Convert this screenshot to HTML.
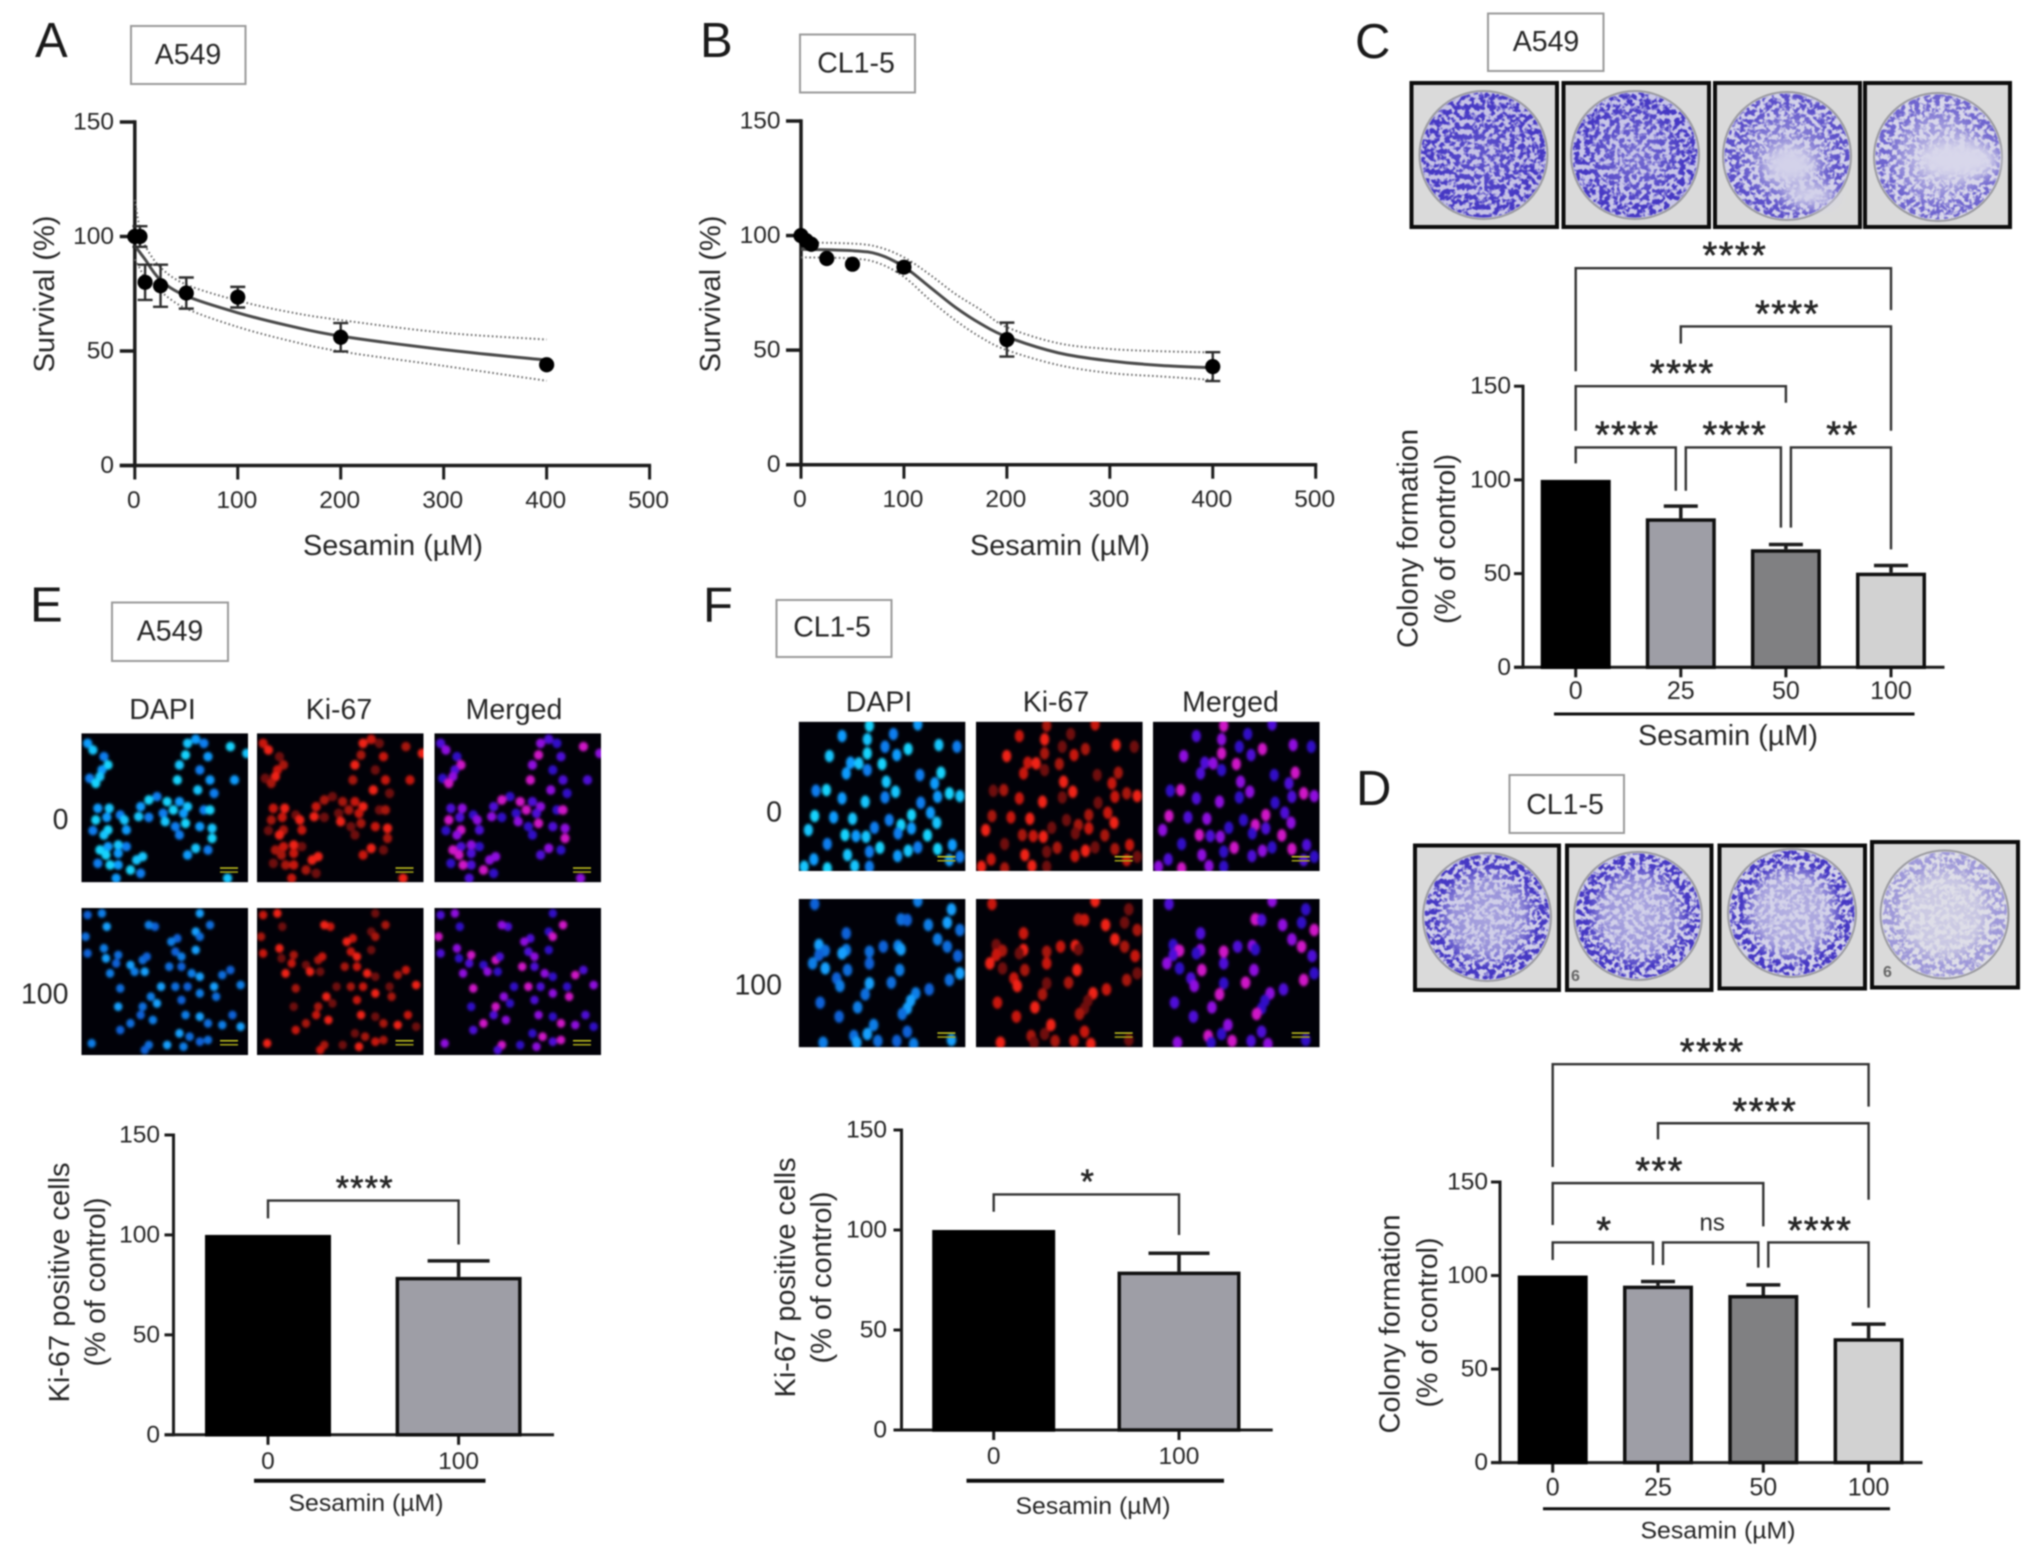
<!DOCTYPE html>
<html lang="en">
<head>
<meta charset="utf-8">
<title>Sesamin survival, colony formation and Ki-67 panels</title>
<style>
html,body{margin:0;padding:0;background:#fff;width:2032px;height:1558px;overflow:hidden}
#figure{display:block;filter:blur(0.7px)}
text{font-family:"Liberation Sans",Arial,sans-serif;fill:#262626}
.letter{font-size:49px;fill:#1a1a1a}
.cell-line{font-size:28.5px;text-anchor:middle;dominant-baseline:central}
.box{fill:#fff;stroke:#9a9a9a;stroke-width:2}
.title{font-size:28.5px;text-anchor:middle;dominant-baseline:central}
.channel{font-size:28.5px;text-anchor:middle;dominant-baseline:central}
.row-label{font-size:28.5px;text-anchor:end;dominant-baseline:central}
</style>
</head>
<body>
<svg id="figure" xmlns="http://www.w3.org/2000/svg" width="2032" height="1558" viewBox="0 0 2032 1558">
  <defs id="defs">
    <filter id="speckle" x="-5%" y="-5%" width="110%" height="110%" color-interpolation-filters="sRGB">
      <feTurbulence type="fractalNoise" baseFrequency="0.2" numOctaves="2" seed="11" result="noise"/>
      <feColorMatrix in="noise" type="matrix" values="0 0 0 0 0  0 0 0 0 0  0 0 0 0 0  6 0 0 0 -2.45" result="mask"/>
      <feComposite in="SourceGraphic" in2="mask" operator="in"/>
    </filter>
    <filter id="soft" x="-30%" y="-30%" width="160%" height="160%"><feGaussianBlur stdDeviation="7"/></filter>
    <filter id="cell-blur" x="-5%" y="-5%" width="110%" height="110%"><feGaussianBlur stdDeviation="1.3"/></filter>
  </defs>
  <rect width="2032" height="1558" fill="#fff"/>

  <text class="letter" x="35" y="57">A</text>
  <text class="letter" x="700" y="57">B</text>
  <text class="letter" x="1355" y="58">C</text>
  <text class="letter" x="1356" y="805">D</text>
  <text class="letter" x="30" y="621.5">E</text>
  <text class="letter" x="703" y="621.5">F</text>

  <g><rect class="box" x="131" y="26" width="114.5" height="58"/><text class="cell-line" x="188" y="55">A549</text></g>
  <g><rect class="box" x="800" y="34.5" width="115" height="58"/><text class="cell-line" x="856" y="63.5">CL1-5</text></g>
  <g><rect class="box" x="1488" y="13.5" width="115.5" height="57.5"/><text class="cell-line" x="1546" y="42">A549</text></g>
  <g><rect class="box" x="1509.5" y="775" width="114.5" height="58"/><text class="cell-line" x="1565" y="805">CL1-5</text></g>
  <g><rect class="box" x="112" y="602.5" width="116" height="58.5"/><text class="cell-line" x="170" y="631.5">A549</text></g>
  <g><rect class="box" x="776.5" y="600" width="115" height="57"/><text class="cell-line" x="832" y="627.5">CL1-5</text></g>

  <g id="plates"></g>
  <g id="micrographs"></g>

  <text class="channel" x="162.5" y="710">DAPI</text>
  <text class="channel" x="339" y="710">Ki-67</text>
  <text class="channel" x="514" y="710">Merged</text>
  <text class="row-label" x="68.5" y="820">0</text>
  <text class="row-label" x="68.5" y="994.5">100</text>
  <text class="channel" x="879" y="702.5">DAPI</text>
  <text class="channel" x="1056" y="702.5">Ki-67</text>
  <text class="channel" x="1230.5" y="702.5">Merged</text>
  <text class="row-label" x="782" y="812.5">0</text>
  <text class="row-label" x="782" y="985.5">100</text>

  <g id="chart-a">
    <text class="title" transform="translate(45 294) rotate(-90)" textLength="157" lengthAdjust="spacingAndGlyphs">Survival (%)</text>
    <text class="title" x="393" y="546" textLength="180" lengthAdjust="spacingAndGlyphs">Sesamin (µM)</text>
  </g>
  <g id="chart-b">
    <text class="title" transform="translate(711 294) rotate(-90)" textLength="157" lengthAdjust="spacingAndGlyphs">Survival (%)</text>
    <text class="title" x="1060" y="546" textLength="180" lengthAdjust="spacingAndGlyphs">Sesamin (µM)</text>
  </g>
  <g id="chart-c">
    <text class="title" transform="translate(1408.5 538.5) rotate(-90)" textLength="219" lengthAdjust="spacingAndGlyphs">Colony formation</text>
    <text class="title" transform="translate(1446 539) rotate(-90)" textLength="170" lengthAdjust="spacingAndGlyphs">(% of control)</text>
    <text class="title" x="1728" y="736" textLength="180" lengthAdjust="spacingAndGlyphs">Sesamin (µM)</text>
  </g>
  <g id="chart-d">
    <text class="title" transform="translate(1390.5 1324) rotate(-90)" textLength="219" lengthAdjust="spacingAndGlyphs">Colony formation</text>
    <text class="title" transform="translate(1428 1322.5) rotate(-90)" textLength="170" lengthAdjust="spacingAndGlyphs">(% of control)</text>
    <text class="title" x="1718" y="1531" textLength="155" lengthAdjust="spacingAndGlyphs" style="font-size:24.5px">Sesamin (µM)</text>
  </g>
  <g id="chart-e">
    <text class="title" transform="translate(60 1282.5) rotate(-90)" textLength="240" lengthAdjust="spacingAndGlyphs">Ki-67 positive cells</text>
    <text class="title" transform="translate(96 1282) rotate(-90)" textLength="169" lengthAdjust="spacingAndGlyphs">(% of control)</text>
    <text class="title" x="366" y="1503.5" textLength="155" lengthAdjust="spacingAndGlyphs" style="font-size:24.5px">Sesamin (µM)</text>
  </g>
  <g id="chart-f">
    <text class="title" transform="translate(786 1277.5) rotate(-90)" textLength="240" lengthAdjust="spacingAndGlyphs">Ki-67 positive cells</text>
    <text class="title" transform="translate(822 1277.5) rotate(-90)" textLength="172" lengthAdjust="spacingAndGlyphs">(% of control)</text>
    <text class="title" x="1093" y="1506.5" textLength="155" lengthAdjust="spacingAndGlyphs" style="font-size:24.5px">Sesamin (µM)</text>
  </g>
</svg>

<script>
/* ---------- chart data ---------- */
const survivalYTicks = [0, 50, 100, 150];
const survivalXTicks = [0, 100, 200, 300, 400, 500];

const aDoses = [0, 5, 10, 25, 50, 100, 200, 400];
const aSurvival = [100, 100, 80, 78.5, 75.3, 73.5, 56, 44];
const aErrors = [0, 4.5, 7.7, 9.2, 6.8, 4.5, 6.2, 0];
const aFitDoses = [0, 5, 10, 25, 50, 100, 150, 200, 300, 400];
const aFit = [96, 93, 90, 81, 74, 66.7, 61, 56.5, 50.6, 46];
const aUpper = [116, 103, 96, 86.5, 79, 72, 67, 63.5, 58, 55];
const aLower = [90, 86, 82, 76, 68.5, 60.5, 54.5, 49.8, 43.5, 37];

const bDoses = [0, 5, 10, 25, 50, 100, 200, 400];
const bSurvival = [100, 97.8, 96.2, 90, 87.5, 86.2, 54.6, 42.8];
const bErrors = [0, 0, 0, 0, 0, 2, 7.4, 6.3];
const bFitDoses = [0, 50, 75, 100, 125, 150, 175, 200, 250, 300, 350, 400];
const bFit = [94, 93.4, 91.8, 86.4, 77.6, 68.7, 61.4, 55.8, 48.8, 45.3, 43.3, 42.3];
const bUpper = [97, 96.5, 95, 90.5, 83, 74.5, 67.5, 60, 53, 50.5, 49.5, 49];
const bLower = [90.5, 90, 88, 82, 72, 63, 55.5, 50, 43.5, 40, 38.5, 37];

const barYTicks = [0, 50, 100, 150];

const cCategories = ['0', '25', '50', '100'];
const cValues = [100, 79.5, 63, 50.5];
const cErrors = [0, 6.5, 2.5, 3.8];
const cBracketFrom = [0, 1, 0, 0, 1, 2];
const cBracketTo = [3, 3, 2, 1, 2, 3];
const cBracketLevel = [213, 181.9, 150, 117.3, 117.3, 117.3];
const cBracketLeftEnd = [158, 172.7, 126.2, 108.8, 94.2, 74.5];
const cBracketRightEnd = [190.6, 126.2, 141.2, 94.2, 74.5, 62.9];
const cBracketLabels = ['****', '****', '****', '****', '****', '**'];

const dCategories = ['0', '25', '50', '100'];
const dValues = [100, 94.6, 89.6, 66.5];
const dErrors = [0, 2.2, 5.4, 7.5];
const dBracketFrom = [0, 1, 0, 0, 1, 2];
const dBracketTo = [3, 3, 2, 1, 2, 3];
const dBracketLevel = [213, 181.4, 149.4, 117.7, 117.7, 117.7];
const dBracketLeftEnd = [158, 172.8, 127, 108.3, 105.6, 104.2];
const dBracketRightEnd = [190.3, 140.5, 126.3, 105.6, 104.2, 82.8];
const dBracketLabels = ['****', '****', '***', '*', 'ns', '****'];

const eCategories = ['0', '100'];
const eValues = [100, 79];
const eErrors = [0, 8];
const eBracketFrom = [0];
const eBracketTo = [1];
const eBracketLevel = [117.2];
const eBracketLeftEnd = [108.3];
const eBracketRightEnd = [95.2];
const eBracketLabels = ['****'];

const fCategories = ['0', '100'];
const fValues = [100, 79.2];
const fErrors = [0, 9.2];
const fBracketFrom = [0];
const fBracketTo = [1];
const fBracketLevel = [117.8];
const fBracketLeftEnd = [109.1];
const fBracketRightEnd = [97.5];
const fBracketLabels = ['*'];

/* ---------- shared drawing helpers ---------- */
const SVGNS = 'http://www.w3.org/2000/svg';
function make(tag, attrs, parent) {
  const node = document.createElementNS(SVGNS, tag);
  for (const key in attrs) node.setAttribute(key, attrs[key]);
  if (parent) parent.appendChild(node);
  return node;
}
function linear(d0, d1, r0, r1) {
  return function (v) { return r0 + (v - d0) * (r1 - r0) / (d1 - d0); };
}
function smoothPath(points) {
  let d = 'M' + points[0][0].toFixed(2) + ' ' + points[0][1].toFixed(2);
  for (let i = 0; i < points.length - 1; i++) {
    const p0 = points[i - 1] || points[i];
    const p1 = points[i];
    const p2 = points[i + 1];
    const p3 = points[i + 2] || p2;
    d += 'C' + (p1[0] + (p2[0] - p0[0]) / 6).toFixed(2) + ' ' + (p1[1] + (p2[1] - p0[1]) / 6).toFixed(2) + ' ' +
      (p2[0] - (p3[0] - p1[0]) / 6).toFixed(2) + ' ' + (p2[1] - (p3[1] - p1[1]) / 6).toFixed(2) + ' ' +
      p2[0].toFixed(2) + ' ' + p2[1].toFixed(2);
  }
  return d;
}

function drawYAxis(group, prefix, ticks, y, axisX, tickLength, labelRight, fontSize, strokeWidth) {
  const spine = make('line', { x1: axisX, x2: axisX, y1: y(ticks[ticks.length - 1]) - strokeWidth / 2, y2: y(0) + strokeWidth / 2, stroke: '#1c1c1c', 'stroke-width': strokeWidth }, group);
  
  
  ticks.forEach(function (t) {
    const mark = make('line', { x1: axisX - tickLength, x2: axisX, y1: y(t), y2: y(t), stroke: '#1c1c1c', 'stroke-width': strokeWidth }, group);
    
    
    const label = make('text', { x: labelRight, y: y(t), 'text-anchor': 'end', 'dominant-baseline': 'central', 'font-size': fontSize }, group);
    label.textContent = t;
    
    
  });
}

/* ---------- survival curves (A, B) ---------- */
function drawSurvival(prefix, group, doses, survival, errors, fitDoses, fit, upper, lower, axisX0, axisX1, axisY0, axisY150, labelRight) {
  const x = linear(0, 500, axisX0, axisX1);
  const y = linear(0, 150, axisY0, axisY150);
  drawYAxis(group, prefix, survivalYTicks, y, axisX0, 15, labelRight, 24.5, 3.5);
  const base = make('line', { x1: axisX0 - 15, x2: axisX1 + 1.5, y1: axisY0, y2: axisY0, stroke: '#1c1c1c', 'stroke-width': 3.5 }, group);
  
  
  survivalXTicks.forEach(function (t) {
    const mark = make('line', { x1: x(t), x2: x(t), y1: axisY0, y2: axisY0 + 14, stroke: '#1c1c1c', 'stroke-width': 3 }, group);
    
    
    const label = make('text', { x: x(t) - 1, y: axisY0 + 35, 'text-anchor': 'middle', 'dominant-baseline': 'central', 'font-size': 24.5 }, group);
    label.textContent = t;
    
    
  });
  const upperLine = make('path', { d: smoothPath(fitDoses.map(function (v, i) { return [x(v), y(upper[i])]; })), fill: 'none', stroke: '#6a6a6a', 'stroke-width': 2, 'stroke-dasharray': '1.6 2.6' }, group);
  
  
  const lowerLine = make('path', { d: smoothPath(fitDoses.map(function (v, i) { return [x(v), y(lower[i])]; })), fill: 'none', stroke: '#6a6a6a', 'stroke-width': 2, 'stroke-dasharray': '1.6 2.6' }, group);
  
  
  const fitLine = make('path', { d: smoothPath(fitDoses.map(function (v, i) { return [x(v), y(fit[i])]; })), fill: 'none', stroke: '#4a4a4a', 'stroke-width': 3 }, group);
  
  
  doses.forEach(function (d, i) {
    if (errors[i] > 0) {
      const cx = x(d);
      const top = y(survival[i] + errors[i]);
      const bottom = y(survival[i] - errors[i]);
      const whisker = make('path', { d: 'M' + (cx - 7.5) + ' ' + top + 'H' + (cx + 7.5) + 'M' + cx + ' ' + top + 'V' + bottom + 'M' + (cx - 7.5) + ' ' + bottom + 'H' + (cx + 7.5), fill: 'none', stroke: '#2e2e2e', 'stroke-width': 2.4 }, group);
      
      
    }
    const dot = make('circle', { cx: x(d), cy: y(survival[i]), r: 7.6, fill: '#000' }, group);
    
    
  });
}

/* ---------- bar charts (C, D, E, F) ---------- */
const barFills = ['#000000', '#9e9ea6', '#808082', '#d2d2d2'];

function drawBars(prefix, group, categories, values, errors, layout, bracketFrom, bracketTo, bracketLevel, bracketLeft, bracketRight, bracketLabels) {
  const y = linear(0, 150, layout.y0, layout.y150);
  const x = function (i) { return layout.first + i * layout.step; };
  const sw = layout.stroke;
  drawYAxis(group, prefix, barYTicks, y, layout.axisX, layout.tickLength, layout.labelRight, layout.yFont, sw - 0.5);
  const base = make('line', { x1: layout.axisX - layout.tickLength, x2: layout.axisEnd, y1: layout.y0, y2: layout.y0, stroke: '#1c1c1c', 'stroke-width': sw - 0.5 }, group);
  
  
  categories.forEach(function (c, i) {
    const mark = make('line', { x1: x(i), x2: x(i), y1: layout.y0, y2: layout.y0 + 10, stroke: '#1c1c1c', 'stroke-width': sw - 0.5 }, group);
    
    
    const label = make('text', { x: x(i), y: layout.labelY, 'text-anchor': 'middle', 'dominant-baseline': 'central', 'font-size': layout.xFont }, group);
    label.textContent = c;
    
    

    if (errors[i] > 0) {
      const capHalf = layout.cap / 2;
      const whisker = make('path', { d: 'M' + x(i) + ' ' + y(values[i]) + 'V' + y(values[i] + errors[i]) + 'M' + (x(i) - capHalf) + ' ' + y(values[i] + errors[i]) + 'H' + (x(i) + capHalf), fill: 'none', stroke: '#1c1c1c', 'stroke-width': sw }, group);
      
      
    }
    const bar = make('rect', {
      x: x(i) - layout.barWidth / 2 + sw / 2, y: y(values[i]) + sw / 2, width: layout.barWidth - sw,
      height: layout.y0 - y(values[i]) - sw / 2, fill: barFills[i], stroke: i === 0 ? '#000' : '#101010', 'stroke-width': sw
    }, group);
    
    
  });
  const rule = make('line', { x1: layout.ruleStart, x2: layout.ruleEnd, y1: layout.ruleY, y2: layout.ruleY, stroke: '#0d0d0d', 'stroke-width': layout.ruleWidth }, group);
  
  

  bracketFrom.forEach(function (from, i) {
    const to = bracketTo[i];
    const adjacent = to - from === 1 && categories.length > 2;
    const xa = x(from) + (adjacent && from > 0 ? 5 : 0);
    const xb = x(to) - (adjacent && to < categories.length - 1 ? 5 : 0);
    const path = make('path', {
      d: 'M' + xa + ' ' + y(bracketLeft[i]) + 'V' + y(bracketLevel[i]) + 'H' + xb + 'V' + y(bracketRight[i]),
      fill: 'none', stroke: '#333', 'stroke-width': 2.4
    }, group);
    
    
    const text = bracketLabels[i];
    const isNs = text === 'ns';
    const fs = isNs ? 24 : layout.starFont;
    const cy = y(bracketLevel[i]) - layout.starGap;
    const label = make('text', {
      x: (xa + xb) / 2 + 1.5, y: isNs ? cy + 2 : cy + 0.58 * fs, 'text-anchor': 'middle', 'font-size': fs,
      'letter-spacing': isNs ? 0 : layout.starSpacing
    }, group);
    if (isNs) label.setAttribute('dominant-baseline', 'central');
    else {
      label.setAttribute('stroke', '#262626');
      label.setAttribute('stroke-width', '0.6');
    }
    label.textContent = text;
    
    
  });
}

drawSurvival('a', document.getElementById('chart-a'), aDoses, aSurvival, aErrors, aFitDoses, aFit, aUpper, aLower, 134.8, 649.6, 465.5, 122, 114);
drawSurvival('b', document.getElementById('chart-b'), bDoses, bSurvival, bErrors, bFitDoses, bFit, bUpper, bLower, 801, 1315.7, 464.7, 121, 780.5);

drawBars('c', document.getElementById('chart-c'), cCategories, cValues, cErrors,
  { y0: 667.3, y150: 386.2, first: 1575.7, step: 105.1, axisX: 1523, tickLength: 9, labelRight: 1511, yFont: 24.5, axisEnd: 1944.5, xFont: 25, labelY: 691, barWidth: 70, stroke: 3.5, cap: 34, ruleStart: 1554, ruleEnd: 1914.5, ruleY: 714, ruleWidth: 3, starFont: 38, starGap: 22, starSpacing: 1.4 },
  cBracketFrom, cBracketTo, cBracketLevel, cBracketLeftEnd, cBracketRightEnd, cBracketLabels);

drawBars('d', document.getElementById('chart-d'), dCategories, dValues, dErrors,
  { y0: 1462.6, y150: 1182, first: 1552.7, step: 105.3, axisX: 1500, tickLength: 9, labelRight: 1488, yFont: 24.5, axisEnd: 1922.5, xFont: 25, labelY: 1487.7, barWidth: 70, stroke: 3.5, cap: 34, ruleStart: 1543, ruleEnd: 1890, ruleY: 1508.8, ruleWidth: 3, starFont: 38, starGap: 21.5, starSpacing: 1.4 },
  dBracketFrom, dBracketTo, dBracketLevel, dBracketLeftEnd, dBracketRightEnd, dBracketLabels);

drawBars('e', document.getElementById('chart-e'), eCategories, eValues, eErrors,
  { y0: 1434.8, y150: 1135, first: 268, step: 190.6, axisX: 173.5, tickLength: 9, labelRight: 160, yFont: 24.5, axisEnd: 554, xFont: 24.5, labelY: 1461.5, barWidth: 126, stroke: 3.5, cap: 62, ruleStart: 254, ruleEnd: 485.5, ruleY: 1480.7, ruleWidth: 4, starFont: 34, starGap: 21, starSpacing: 1.3 },
  eBracketFrom, eBracketTo, eBracketLevel, eBracketLeftEnd, eBracketRightEnd, eBracketLabels);

drawBars('f', document.getElementById('chart-f'), fCategories, fValues, fErrors,
  { y0: 1430, y150: 1130, first: 993.7, step: 185.3, axisX: 901.5, tickLength: 8, labelRight: 887, yFont: 24.5, axisEnd: 1272.7, xFont: 24.5, labelY: 1456.7, barWidth: 123, stroke: 3.5, cap: 61, ruleStart: 966.5, ruleEnd: 1224, ruleY: 1480.7, ruleWidth: 4, starFont: 34, starGap: 21, starSpacing: 1.3 },
  fBracketFrom, fBracketTo, fBracketLevel, fBracketLeftEnd, fBracketRightEnd, fBracketLabels);

/* ---------- crystal-violet colony plates (photographic illustration) ---------- */
const plateSpecs = [
  ['c-plate-0', 1411.5, 83, 145.5, 144, 1483.5, 155, '#c6c3e6', 0.8, 0.95, 1, null],
  ['c-plate-25', 1563.5, 83, 145.5, 144, 1635, 155, '#c8c6e8', 0.62, 0.85, 1, null],
  ['c-plate-50', 1715, 83, 145, 144, 1787, 156, '#d3d2ea', 0.42, 0.62, 0.85, [1790, 165, 26, 20, 1810, 195, 26, 12]],
  ['c-plate-100', 1865, 83, 145, 144, 1938, 157, '#d8d7eb', 0.3, 0.42, 0.72, [1958, 160, 42, 20]],
  ['d-plate-0', 1415, 845.5, 144, 144.5, 1487, 917, '#d0cfe9', 0.28, 0.42, 1, null],
  ['d-plate-25', 1567, 845.5, 144.5, 144.5, 1638, 916, '#d2d1ea', 0.26, 0.4, 1, null],
  ['d-plate-50', 1719.5, 845.5, 145.5, 143, 1792, 913, '#d4d3ea', 0.22, 0.3, 1, null],
  ['d-plate-100', 1872, 842, 146, 145.5, 1944.5, 914.5, '#dedee8', 0.1, 0.14, 0.42, null]
];
const plateGroup = document.getElementById('plates');
const plateDefs = document.getElementById('defs');
plateSpecs.forEach(function (s) {
  const g = make('g', {}, plateGroup);
  
  
  const stage = make('rect', { x: s[1], y: s[2], width: s[3], height: s[4], fill: '#dadada', stroke: '#0c0c0c', 'stroke-width': 4 }, g);
  
  
  const dish = make('circle', { cx: s[5], cy: s[6], r: 64, fill: s[7], stroke: '#9a9aa0', 'stroke-width': 2 }, g);
  
  
  const grad = make('radialGradient', { id: 'grad-' + s[0] }, plateDefs);
  [[0, s[8]], [0.55, s[9]], [0.82, s[10]], [1, s[10]]].forEach(function (st) {
    make('stop', { offset: st[0], 'stop-color': '#4638c4', 'stop-opacity': st[1] }, grad);
  });
  const colonies = make('circle', { cx: s[5], cy: s[6], r: 62.5, fill: 'url(#grad-' + s[0] + ')', filter: 'url(#speckle)' }, g);
  
  
  if (s[11]) {
    for (let i = 0; i < s[11].length; i += 4) {
      const clear = make('ellipse', { cx: s[11][i], cy: s[11][i + 1], rx: s[11][i + 2], ry: s[11][i + 3], fill: s[7], filter: 'url(#soft)' }, g);
      
      
    }
  }
});
const plateMarkD25 = make('text', { x: 1571, y: 981, 'font-size': 16, 'font-weight': 'bold', style: 'fill:#666' }, plateGroup);
plateMarkD25.textContent = '6';


const plateMarkD100 = make('text', { x: 1883, y: 977, 'font-size': 16, 'font-weight': 'bold', style: 'fill:#666' }, plateGroup);
plateMarkD100.textContent = '6';



/* ---------- fluorescence micrographs (photographic illustration) ---------- */
const cellsE0 = [215,490,228,510,255,530,265,555,250,570,245,590,220,595,235,610,480,478,460,490,500,490,455,525,510,530,440,555,490,570,435,600,515,600,485,630,525,640,565,500,575,600,605,520,385,650,365,660,345,680,340,710,365,712,410,665,440,665,460,680,400,700,425,690,450,700,405,725,430,740,455,730,240,685,268,685,295,705,235,720,262,712,305,720,228,752,265,750,310,750,255,765,500,690,515,690,490,740,520,745,440,765,520,775,460,825,480,805,510,810,245,810,265,800,290,795,310,800,260,825,290,820,350,830,240,850,270,855,290,855,335,840,345,880,320,870,285,895,558,895];
const cellsE1 = [215,1005,250,1000,262,1040,210,1070,215,1120,255,1105,260,1135,290,1125,285,1150,270,1180,320,1155,350,1140,360,1130,330,1175,355,1175,295,1225,380,1040,365,1035,490,1000,515,1035,435,1075,420,1085,480,1055,490,1070,430,1115,445,1130,480,1110,415,1160,445,1160,470,1180,490,1190,545,1185,565,1170,590,1215,395,1220,430,1220,460,1220,490,1240,525,1220,530,1250,445,1260,370,1250,385,1270,350,1280,345,1305,375,1320,290,1280,320,1330,295,1350,455,1305,490,1310,510,1330,570,1305,545,1335,440,1360,465,1370,490,1385,450,1400,410,1395,365,1395,355,1410,225,1390,590,1340,510,1380];
const cellsF0 = [385,468,445,478,507,462,450,437,565,433,355,528,487,500,542,507,515,525,615,495,658,500,445,520,405,548,425,550,445,570,480,552,395,580,490,605,570,585,620,578,605,610,512,635,323,632,348,630,385,655,440,665,487,652,640,640,612,650,665,648,572,668,320,708,365,712,410,716,497,720,550,705,595,698,305,750,462,743,525,735,550,745,610,728,350,792,392,765,418,768,442,770,518,760,588,766,318,838,398,825,450,815,475,803,517,828,542,812,565,802,612,807,647,795,415,858,450,860,350,865,640,840,295,860,665,830];
const cellsF1 = [320,972,565,963,645,988,525,1018,540,1020,590,1035,635,1028,665,1050,395,1060,612,1078,330,1095,345,1112,330,1125,395,1110,385,1120,450,1115,483,1100,518,1098,525,1108,635,1100,660,1128,315,1150,345,1165,398,1170,450,1150,522,1170,665,1180,640,1200,372,1195,380,1218,450,1210,502,1208,592,1228,560,1240,548,1262,440,1243,333,1268,422,1282,540,1285,528,1302,378,1310,460,1335,445,1362,413,1368,540,1355,340,1388,420,1388,470,1383,515,1383,555,1392,645,1380];

const palettes = {
  dapiBright: ['#0f9cff', '#12c6ff', '#0a7ef0', '#18d4ff'],
  dapiDeep: ['#0a62d8', '#0a7ee8', '#12a0ff', '#0a6ede'],
  ki: ['#c81410', '#f02418', '#701010', '#a81210'],
  merged: ['#5010d8', '#9010e0', '#3010c8', '#d018c8']
};

function drawMicrograph(name, x, y, w, h, cells, cellOriginX, cellOriginY, sx, sy, palette, rx, ry) {
  const panel = make('svg', { x: x, y: y, width: w, height: h }, document.getElementById('micrographs'));
  
  
  make('rect', { width: w, height: h, fill: '#010108' }, panel);
  const g = make('g', { filter: 'url(#cell-blur)' }, panel);
  for (let i = 0; i < cells.length; i += 2) {
    make('ellipse', {
      cx: (cells[i] - cellOriginX) * sx, cy: (cells[i + 1] - cellOriginY) * sy,
      rx: rx, ry: ry, fill: palette[(i / 2) % palette.length]
    }, g);
  }
  make('rect', { x: w - 28, y: h - 15, width: 18, height: 1.5, fill: '#c8c820' }, panel);
  make('rect', { x: w - 28, y: h - 11, width: 18, height: 1.5, fill: '#a8a818' }, panel);
}

[
  ['e-dapi', 81.5, palettes.dapiBright, palettes.dapiDeep],
  ['e-ki67', 257, palettes.ki, palettes.ki],
  ['e-merged', 434.5, palettes.merged, palettes.merged]
].forEach(function (c) {
  drawMicrograph(c[0] + '-0', c[1], 733.3, 166.5, 149, cellsE0, 200, 460, 0.408, 1 / 3, c[2], 4.6, 4.8);
  drawMicrograph(c[0] + '-100', c[1], 908, 166.5, 147, cellsE1, 200, 984, 0.408, 1 / 3, c[3], 4.2, 4.4);
});
[
  ['f-dapi', 798.7, palettes.dapiBright, palettes.dapiDeep],
  ['f-ki67', 976, palettes.ki, palettes.ki],
  ['f-merged', 1153, palettes.merged, palettes.merged]
].forEach(function (c) {
  drawMicrograph(c[0] + '-0', c[1], 721.7, 166.7, 149.3, cellsF0, 282, 425, 0.4209, 1 / 3, c[2], 4.6, 6.2);
  drawMicrograph(c[0] + '-100', c[1], 899, 166.7, 148.3, cellsF1, 282, 957, 0.4209, 1 / 3, c[3], 4.8, 6.2);
});
</script>
</body>
</html>
